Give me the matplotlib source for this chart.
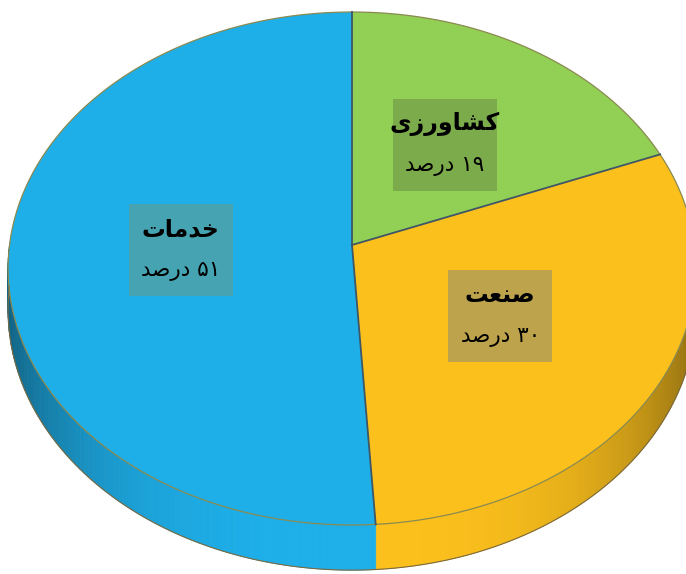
import numpy as np
import matplotlib
matplotlib.use("Agg")
import matplotlib.pyplot as plt
from matplotlib.patches import Polygon, Rectangle

# data (Persian labels written in visual order with presentation forms)
names = ["\uFBFC\uFEAF\uFEAD\uFEED\uFE8E\uFEB8\uFB90",   # کشاورزی
         "\uFE96\uFECC\uFEE8\uFEBB",                     # صنعت
         "\uFE95\uFE8E\uFEE3\uFEAA\uFEA7"]               # خدمات
values = [19, 30, 51]
digits = ["\u06F1\u06F9", "\u06F3\u06F0", "\u06F5\u06F1"]
percent_word = "\uFEAA\uFEBB\uFEAD\uFEA9"                # درصد
colors = ["#92cf55", "#fcc01c", "#1eafe9"]
box_colors = ["#7aa84c", "#b6a052", "#4ba2ac"]

# perspective of the tilted disc (pixel space)
cx, cy = 352, 245
R = 342.5
b = -231.9
c = 0.0916
depth = 41


def proj(t, r=1.0):
    u = r * np.cos(t)
    v = r * np.sin(t)
    d = 1 + c * v
    return cx + R * u / d, (cy + b * v) / d, d


fig = plt.figure(figsize=(6.86, 5.74), dpi=100)
ax = fig.add_axes([0, 0, 1, 1])
ax.set_xlim(0, 686)
ax.set_ylim(574, 0)
ax.axis("off")

fracs = np.array(values) / np.sum(values)
ends = 90 - 360 * np.cumsum(fracs)
starts = np.concatenate([[90], ends[:-1]])

# side walls (front half only), shaded towards the edges
for s, e, col in zip(starts, ends, colors):
    lo, hi = e, s
    for k in (-360, 0):
        a0 = max(lo, 180 + k)
        a1 = min(hi, 360 + k)
        if a1 <= a0:
            continue
        ts = np.radians(np.linspace(a0, a1, int(a1 - a0) + 2))
        base = np.array(matplotlib.colors.to_rgb(col))
        for i in range(len(ts) - 1):
            t2 = ts[i:i + 2]
            x, y, d = proj(t2)
            xs = np.concatenate([x, x[::-1]])
            ys = np.concatenate([y, (y + depth / d)[::-1]])
            shade = 1 - 0.45 * abs(np.cos(t2.mean())) ** 3
            ax.add_patch(Polygon(np.c_[xs, ys], closed=True, fc=base * shade,
                                 ec=base * shade, lw=0.6))
        # bottom rim
        x, y, d = proj(ts)
        ax.plot(x, y + depth / d, color="#7a6a40", lw=0.8)

# top face
for s, e, col in zip(starts, ends, colors):
    ts = np.radians(np.linspace(s, e, 200))
    x, y, _ = proj(ts)
    xs = np.concatenate([[cx], x])
    ys = np.concatenate([[cy], y])
    ax.add_patch(Polygon(np.c_[xs, ys], closed=True, fc=col, ec="none"))
    ax.plot(x, y, color="#8a8a50", lw=0.9)

for s in starts:
    x, y, _ = proj(np.radians(s))
    ax.plot([cx, x], [cy, y], color="#3e5666", lw=1.3)

# labels
arabic = ["DejaVu Sans"]
for s, e, nm, dg, bc in zip(starts, ends, names, digits, box_colors):
    x, y, _ = proj(np.radians((s + e) / 2), 0.5)
    ax.add_patch(Rectangle((x - 52, y - 45), 104, 92, fc=bc, ec="none", alpha=0.9))
    ax.text(x, y - 20, nm, ha="center", va="center", fontsize=17,
            fontweight="bold", family=arabic, color="black")
    ax.text(x, y + 22, percent_word + " " + dg, ha="center", va="center",
            fontsize=15.5, family=arabic, color="black")

fig.savefig("out.png", dpi=100)
